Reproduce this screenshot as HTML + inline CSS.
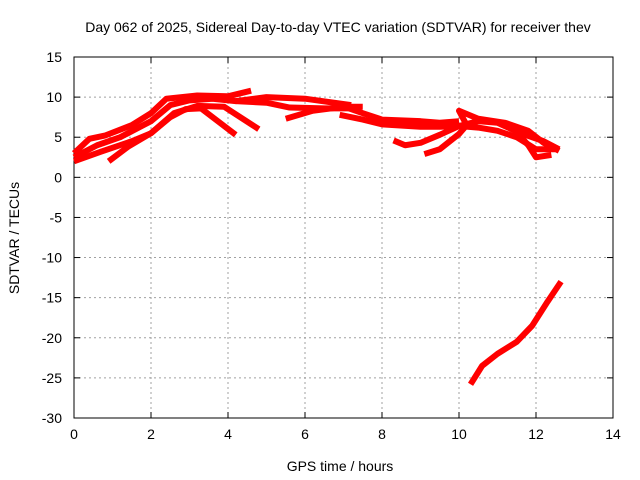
<!DOCTYPE html>
<html><head><meta charset="utf-8">
<style>
body{margin:0;background:#fff;}
svg{display:block;font-family:"Liberation Sans",sans-serif;}
</style></head>
<body>
<svg id="chart" width="640" height="480"></svg>
<script>
const xTicks=[0,2,4,6,8,10,12,14];
const yTicks=[15,10,5,0,-5,-10,-15,-20,-25,-30];
const trackA=[[0,3],[0.4,4.8],[0.8,5.2],[1.5,6.5],[2,8],[2.4,9.8],[3.2,10.2],[4,10.1],[4.6,10.8]];
const trackB=[[0,2.5],[0.6,4],[1.2,5],[2,7],[2.5,9],[3,9.6],[3.6,9.8],[4.2,9.5],[5,10],[6,9.8],[7.2,9]];
const trackC=[[0,2],[0.7,3.2],[1.5,4.5],[2,5.5],[2.5,7.5],[2.9,8.5],[3.3,8.6],[4.2,5.3]];
const trackD=[[0.9,2],[1.4,3.8],[2,5.5],[2.6,8],[3.2,8.9],[3.9,8.8],[4.8,6]];
const trackE=[[4.2,9.5],[5,9.3],[5.6,8.7],[6.5,8.6],[7.2,8.6]];
const trackF=[[5.5,7.3],[6.2,8.3],[7,8.8],[7.5,8.8]];
const trackG=[[6.9,9],[7.5,8],[8,7.2],[9,7],[9.5,6.8],[10,7]];
const trackH=[[6.9,7.8],[7.5,7.2],[8,6.6],[9,6.3],[9.5,6.3],[10,6.4],[10.5,6.2],[11,5.8],[11.5,5],[12,3.5],[12.5,3.5]];
const trackI=[[8.3,4.6],[8.6,4],[9,4.3],[9.5,5.3],[10,6.4],[10.5,7],[11,6.8],[11.6,5.5],[12.2,4.5],[12.6,3.5]];
const trackJ=[[9.1,2.9],[9.5,3.5],[10,5.4],[10.2,6.5],[10,8.3],[10.5,7.3],[11.2,6.8],[11.8,5.8],[12.2,4.3],[12.6,3.3]];
const trackK=[[11.4,6.2],[11.8,4],[12,2.5],[12.4,2.8]];
const trackLow=[[10.3,-25.8],[10.6,-23.5],[11,-22],[11.5,-20.5],[11.9,-18.5],[12.3,-15.5],[12.65,-13]];
const tracks=[trackA,trackB,trackC,trackD,trackE,trackF,trackG,trackH,trackI,trackJ,trackK,trackLow];

const X0=74,X1=613,Y0=418,Y1=57;
const xs=v=>X0+(v-0)/(14-0)*(X1-X0);
const ys=v=>Y0-(v+30)/(45)*(Y0-Y1);
const svg=document.getElementById('chart');
const NS='http://www.w3.org/2000/svg';
function mk(t,a){const e=document.createElementNS(NS,t);for(const k in a)e.setAttribute(k,a[k]);svg.appendChild(e);return e;}

xTicks.forEach(t=>{
  const x=xs(t);
  if(t>0&&t<14){const g=mk('line',{x1:x,y1:Y1,x2:x,y2:Y0,stroke:'#a0a0a0','stroke-dasharray':'2,3','stroke-width':1});
  }
  const tk=mk('line',{x1:x,y1:Y0,x2:x,y2:Y0-6,stroke:'#000'});
  
  const tk2=mk('line',{x1:x,y1:Y1,x2:x,y2:Y1+6,stroke:'#000'});
  
  const l=mk('text',{x:x,y:Y0+21,'text-anchor':'middle','font-size':14});
  l.textContent=t;
});
yTicks.forEach(t=>{
  const y=ys(t);
  if(t<15&&t>-30){const g=mk('line',{x1:X0,y1:y,x2:X1,y2:y,stroke:'#a0a0a0','stroke-dasharray':'2,3','stroke-width':1});
  }
  const tk=mk('line',{x1:X0,y1:y,x2:X0+6,y2:y,stroke:'#000'});
  
  const tk2=mk('line',{x1:X1,y1:y,x2:X1-6,y2:y,stroke:'#000'});
  
  const l=mk('text',{x:X0-12,y:y+5,'text-anchor':'end','font-size':14});
  l.textContent=t;
});
const frame=mk('rect',{x:X0,y:Y1,width:X1-X0,height:Y0-Y1,fill:'none',stroke:'#000'});


tracks.forEach(tr=>{
  const p=mk('polyline',{points:tr.map(d=>xs(d[0])+','+ys(d[1])).join(' '),fill:'none',stroke:'#ff0000','stroke-width':6,'stroke-linejoin':'round','stroke-linecap':'butt'});
  
});

const title=mk('text',{x:338,y:32,'text-anchor':'middle','font-size':14});
title.textContent='Day 062 of 2025, Sidereal Day-to-day VTEC variation (SDTVAR) for receiver thev';

const xt=mk('text',{x:340,y:471,'text-anchor':'middle','font-size':14});
xt.textContent='GPS time / hours';
const yt=mk('text',{x:19,y:238,'text-anchor':'middle','font-size':14,transform:'rotate(-90 19 238)'});
yt.textContent='SDTVAR / TECUs';
</script>
</body></html>
